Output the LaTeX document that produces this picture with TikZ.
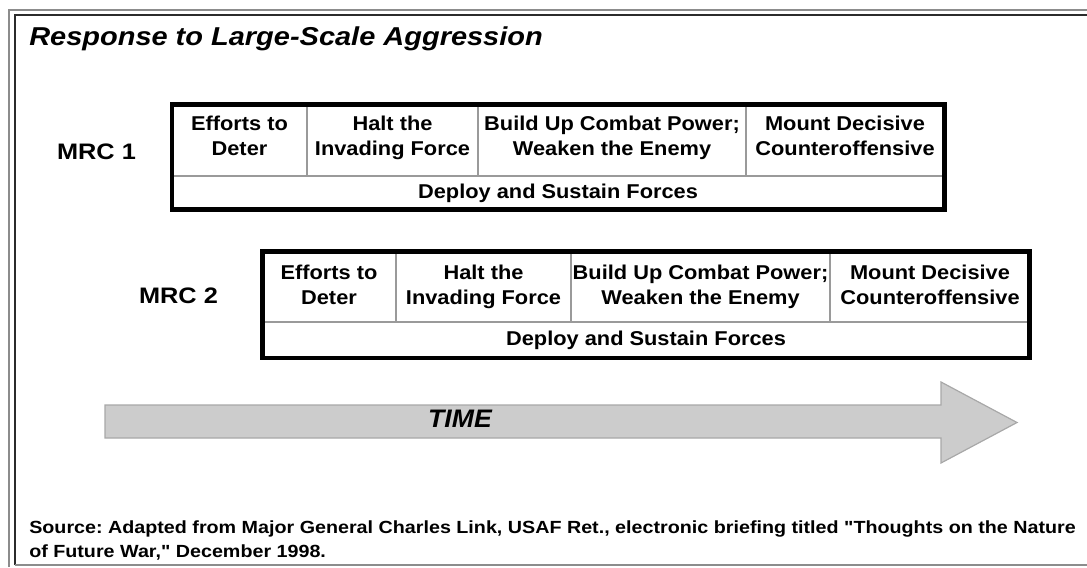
\documentclass[tikz,border=0pt]{standalone}
\usepackage{fontspec}
\setmainfont{Liberation Sans}
\usepackage{graphicx}
\frenchspacing
\definecolor{linegray}{HTML}{9A9A9A}
\definecolor{arrowfill}{HTML}{CCCCCC}
\definecolor{arrowline}{HTML}{A8A8A8}
\definecolor{framegray}{HTML}{8C8C8C}
\definecolor{framedark}{HTML}{2B2B2B}
\newcommand{\widetxt}[2][1.17]{\scalebox{#1}[1]{\begin{tabular}{@{}c@{}}#2\end{tabular}}}
\newcommand{\widesrc}[1]{\scalebox{1.12}[1]{\begin{tabular}[t]{@{}l@{}}#1\end{tabular}}}

\begin{document}
\begin{tikzpicture}[x=0.75pt, y=-0.75pt,
    txt/.style={inner sep=0pt, font=\bfseries\fontsize{15}{18.75}\selectfont},
    lbl/.style={inner sep=0pt, font=\bfseries\fontsize{16.8}{19}\selectfont},
    cellline/.style={draw=linegray, line width=1.1pt},
    outerbox/.style={draw=black, line width=3.2pt}]
    \useasboundingbox (0,0) rectangle (1087,567);
    % frame
    \draw[framegray, line width=1.5pt] (9,567) -- (9,10) -- (1087,10);
    \draw[framedark, line width=1.5pt] (15,565) -- (15,15) -- (1087,15);
    \draw[framegray, line width=1.5pt] (15,565) -- (1087,565);
    \node[anchor=base west, inner sep=0pt, font=\bfseries\itshape\fontsize{19.4}{22}\selectfont] (title) at (29,47) {\widetxt[1.12]{Response to Large-Scale Aggression}};

    % MRC 1
    \node[lbl] (mrcone) at (96.5,154.5) {\widetxt[1.13]{MRC 1}};
    \draw[cellline] (172,176) -- (944.5,176);
    \foreach \x in {307,478,746}
        \draw[cellline] (\x,104.5) -- (\x,176);
    \draw[outerbox] (172,104.5) rectangle (944.5,209.5);
    \node[txt] (deterone) at (239.5,137.5) {\widetxt[1.09]{Efforts to\\Deter}};
    \node[txt] (haltone) at (392.5,137.5) {\widetxt[1.09]{Halt the\\Invading Force}};
    \node[txt] (buildone) at (612,137.5) {\widetxt[1.09]{Build Up Combat Power;\\Weaken the Enemy}};
    \node[txt] (mountone) at (845,137.5) {\widetxt[1.09]{Mount Decisive\\Counteroffensive}};
    \node[txt] (deployone) at (558,193) {\widetxt[1.09]{Deploy and Sustain Forces}};

    % MRC 2
    \node[lbl] (mrctwo) at (178.5,298.5) {\widetxt[1.13]{MRC 2}};
    \draw[cellline] (262.5,322) -- (1029.5,322);
    \foreach \x in {396,571,830}
        \draw[cellline] (\x,251.5) -- (\x,322);
    \draw[outerbox] (262.5,251.5) rectangle (1029.5,358);
    \node[txt] (detertwo) at (329,287) {\widetxt[1.09]{Efforts to\\Deter}};
    \node[txt] (halttwo) at (483.5,287) {\widetxt[1.09]{Halt the\\Invading Force}};
    \node[txt] (buildtwo) at (700.5,287) {\widetxt[1.09]{Build Up Combat Power;\\Weaken the Enemy}};
    \node[txt] (mounttwo) at (930,287) {\widetxt[1.09]{Mount Decisive\\Counteroffensive}};
    \node[txt] (deploytwo) at (646,340) {\widetxt[1.09]{Deploy and Sustain Forces}};

    % time arrow
    \draw[draw=arrowline, fill=arrowfill, line width=0.9pt, line join=miter]
        (105,405) -- (941,405) -- (941,382) -- (1017,422.5) -- (941,463)
        -- (941,438) -- (105,438) -- cycle;
    \node[inner sep=0pt, font=\bfseries\itshape\fontsize{19}{20}\selectfont] (time) at (460,422) {\widetxt[1.05]{TIME}};

    % source
    \node[anchor=base west, inner sep=0pt, font=\bfseries\fontsize{13.2}{18}\selectfont] (source) at (29,533)
        {\widesrc{Source: Adapted from Major General Charles Link, USAF Ret., electronic briefing titled \textquotedbl Thoughts on the Nature\\of Future War,\textquotedbl\ December 1998.}};
\end{tikzpicture}
\end{document}
